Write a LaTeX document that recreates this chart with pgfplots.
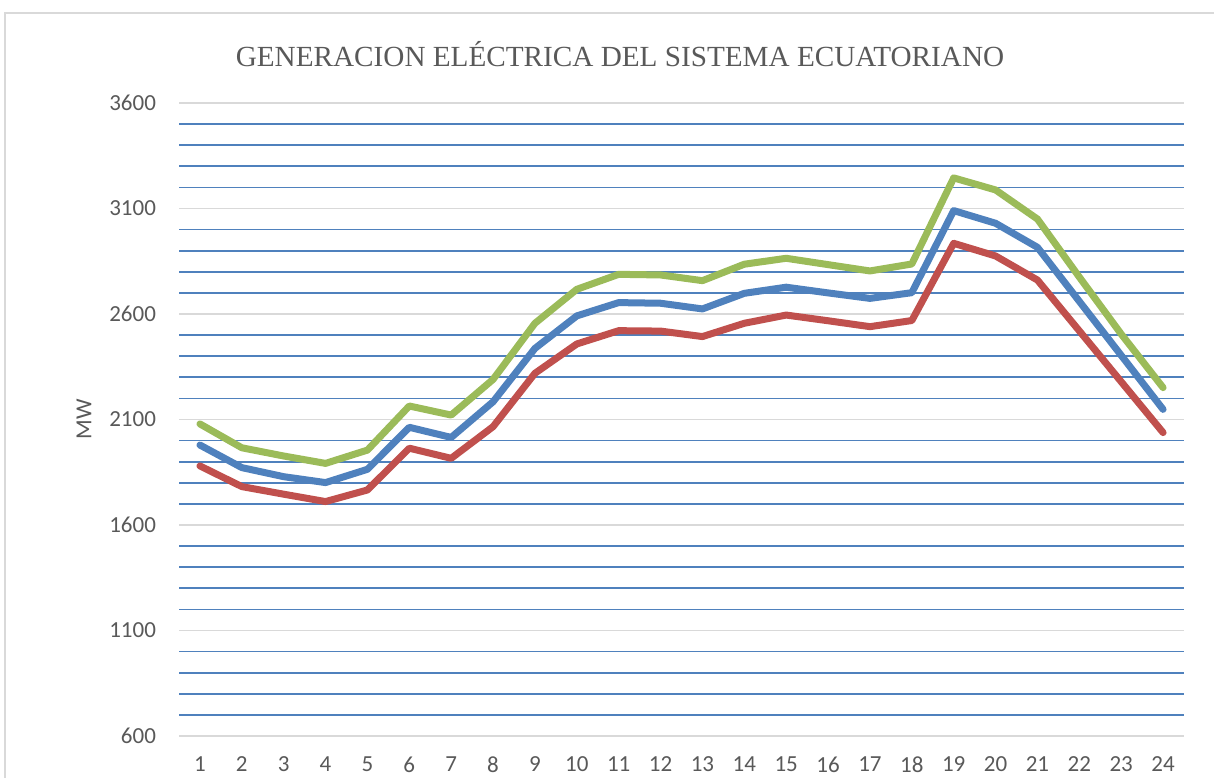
\documentclass[border=0pt]{standalone}
\usepackage{pgfplots}
\pgfplotsset{compat=1.18}
\usepackage{fontspec}
\setmainfont{Carlito}
\newfontfamily\titlefont{Liberation Serif}
\definecolor{txtgray}{RGB}{89,89,89}
\definecolor{grgray}{RGB}{217,217,217}
\definecolor{sblue}{RGB}{79,129,189}
\definecolor{sred}{RGB}{192,80,77}
\definecolor{sgreen}{RGB}{155,187,89}
\begin{document}
\begin{tikzpicture}
\useasboundingbox (0,0) rectangle (607pt,388.5pt);
\draw[grgray, line width=0.8pt] (2.5pt,-20pt) -- (2.5pt,382pt) -- (640pt,382pt);
\node[text=txtgray, font=\titlefont\fontsize{14.6}{17}\selectfont, anchor=center] at (310pt,361.5pt) {GENERACION ELÉCTRICA DEL SISTEMA ECUATORIANO};
\begin{axis}[
  at={(89.5pt,20.5pt)}, anchor=south west,
  scale only axis, width=502.5pt, height=316.5pt,
  xmin=0.5, xmax=24.5, ymin=600, ymax=3600,
  xtick={1,...,24}, ytick={600,1100,...,3600},
  minor y tick num=4,
  ymajorgrids, yminorgrids,
  major grid style={grgray, line width=0.85pt},
  minor grid style={sblue, line width=0.85pt},
  axis line style={draw=none},
  major tick length=0pt, minor tick length=0pt,
  tick label style={font=\fontsize{11.5}{13}\selectfont, text=txtgray},
  /pgf/number format/assume math mode=true,
  /pgf/number format/1000 sep={},
  yticklabel style={xshift=-8pt},
  xticklabel style={yshift=-7pt},
  ylabel={MW},
  every axis y label/.style={at={(axis description cs:0,0.5)}, xshift=-47.5pt, rotate=90, anchor=center, font=\fontsize{11.5}{13}\selectfont, text=txtgray},
  every axis plot/.append style={line width=3.5pt, line join=round, line cap=round, mark=none},
  clip=false,
]
\addplot[sblue] coordinates {(1,1979)(2,1872)(3,1829)(4,1801)(5,1864)(6,2063)(7,2015)(8,2184)(9,2437)(10,2591)(11,2654)(12,2651)(13,2624)(14,2698)(15,2727)(16,2700)(17,2674)(18,2701)(19,3090)(20,3030)(21,2916)(22,2660)(23,2404)(24,2148)};
\addplot[sred] coordinates {(1,1880)(2,1782)(3,1746)(4,1711)(5,1766)(6,1964)(7,1916)(8,2066)(9,2319)(10,2458)(11,2521)(12,2519)(13,2493)(14,2556)(15,2595)(16,2568)(17,2540)(18,2569)(19,2935)(20,2875)(21,2761)(22,2520)(23,2279)(24,2038)};
\addplot[sgreen] coordinates {(1,2079)(2,1966)(3,1927)(4,1892)(5,1955)(6,2164)(7,2121)(8,2290)(9,2556)(10,2717)(11,2788)(12,2785)(13,2758)(14,2836)(15,2864)(16,2834)(17,2804)(18,2837)(19,3245)(20,3188)(21,3050)(22,2775)(23,2505)(24,2251)};
\end{axis}
\end{tikzpicture}
\end{document}
